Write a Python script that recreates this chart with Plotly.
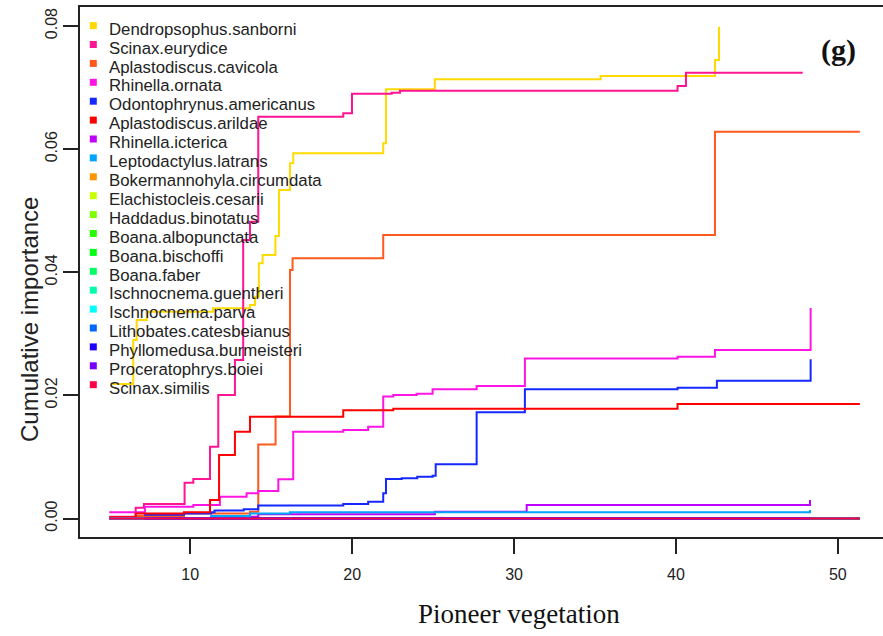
import plotly.graph_objects as go

# Species, ordered by overall importance (legend order)
species = [
    "Dendropsophus.sanborni", "Scinax.eurydice", "Aplastodiscus.cavicola",
    "Rhinella.ornata", "Odontophrynus.americanus", "Aplastodiscus.arildae",
    "Rhinella.icterica", "Leptodactylus.latrans", "Bokermannohyla.circumdata",
    "Elachistocleis.cesarii", "Haddadus.binotatus", "Boana.albopunctata",
    "Boana.bischoffi", "Boana.faber", "Ischnocnema.guentheri",
    "Ischnocnema.parva", "Lithobates.catesbeianus", "Phyllomedusa.burmeisteri",
    "Proceratophrys.boiei", "Scinax.similis",
]
colors = [
    "#FFDA00", "#FF1493", "#FF5A1E", "#FF14E6", "#1428FF", "#FF0000",
    "#C000FF", "#00A5FF", "#FF9600", "#C8FF00", "#7DFF00", "#28FF00",
    "#00FF14", "#00FF64", "#00FFAA", "#00FFFF", "#0064FF", "#1E00FF",
    "#7800FF", "#FF0046",
]

# Cumulative importance along the pioneer-vegetation gradient (step functions)
dendropsophus_x = [5.2, 6.48, 6.69, 7.31, 11.40, 13.69, 14.00, 14.24, 14.47, 15.26,
                   15.48, 16.16, 16.36, 21.92, 22.09, 25.11, 35.35, 42.41, 42.66]
dendropsophus_y = [0.02185, 0.0290, 0.03225, 0.0336, 0.03415, 0.03468, 0.03603, 0.04146,
                   0.0428, 0.0459, 0.05336, 0.0577, 0.05932, 0.06095, 0.06972, 0.07134,
                   0.07188, 0.07448, 0.07989]

eurydice_x = [5.0, 6.63, 7.14, 9.65, 10.19, 11.22, 11.73, 12.76, 13.27, 13.69, 14.20,
              19.45, 19.99, 22.44, 22.95, 40.10, 40.62, 47.83]
eurydice_y = [0.0003, 0.00175, 0.00236, 0.0058, 0.0064, 0.01166, 0.02006, 0.02575,
              0.04524, 0.0482, 0.06527, 0.06582, 0.0690, 0.06917, 0.0695, 0.07026,
              0.07242, 0.07242]

cavicola_x = [5.0, 6.63, 9.61, 13.69, 14.20, 15.27, 16.16, 16.32, 21.92, 42.41, 51.36]
cavicola_y = [0.0001, 0.0004, 0.0008, 0.0011, 0.01202, 0.01657, 0.04037, 0.04227,
              0.04606, 0.06283, 0.06283]

ornata_x = [5.0, 7.2, 10.19, 11.83, 13.48, 14.2, 15.44, 16.36, 19.45, 20.99, 21.92,
            22.54, 23.98, 24.97, 27.69, 30.67, 40.10, 42.41, 48.32]
ornata_y = [0.0010, 0.0019, 0.0022, 0.00354, 0.0041, 0.00447, 0.00637, 0.0141, 0.01438,
            0.01491, 0.0198, 0.02006, 0.02027, 0.02099, 0.02152, 0.0260, 0.02628,
            0.02737, 0.0342]

odontophrynus_x = [7.14, 9.61, 11.3, 11.5, 13.3, 14.2, 19.45, 20.99, 21.92, 22.09,
                   23.06, 24.02, 24.97, 25.16, 27.69, 30.67, 40.10, 42.53, 48.32]
odontophrynus_y = [0.0006, 0.0008, 0.001, 0.0013, 0.0015, 0.0021, 0.00236, 0.00273,
                   0.00409, 0.00642, 0.00653, 0.00679, 0.00695, 0.0088, 0.01725, 0.0210,
                   0.02125, 0.02238, 0.02586]

arildae_x = [5.0, 6.63, 9.61, 11.22, 11.78, 12.76, 13.69, 19.45, 22.54, 40.10, 51.36]
arildae_y = [0.0002, 0.0008, 0.001, 0.0030, 0.0103, 0.0141, 0.01654, 0.01758, 0.01784,
             0.0186, 0.0186]

icterica_x = [5.0, 11.3, 14.2, 25.11, 30.78, 48.28]
icterica_y = [0.0001, 0.0003, 0.0007, 0.0011, 0.00219, 0.0030]

latrans_x = [5.0, 11.3, 13.69, 16.16, 48.28]
latrans_y = [0.0, 0.0004, 0.0008, 0.001, 0.0014]

bokermannohyla_x = [5.0, 51.36]
bokermannohyla_y = [0.0, 0.0]

elachistocleis_x = [5.0, 48.28]
elachistocleis_y = [0.0, 0.0]

haddadus_x = [5.0, 48.28]
haddadus_y = [0.0, 0.0]

albopunctata_x = [5.0, 51.36]
albopunctata_y = [0.0, 0.0]

bischoffi_x = [5.0, 48.28]
bischoffi_y = [0.0, 0.0]

faber_x = [5.0, 51.36]
faber_y = [0.0, 0.0]

guentheri_x = [5.0, 48.28]
guentheri_y = [0.0, 0.0]

parva_x = [5.0, 48.28]
parva_y = [0.0, 0.0]

lithobates_x = [7.14, 48.28]
lithobates_y = [0.0, 0.0]

phyllomedusa_x = [7.14, 51.36]
phyllomedusa_y = [0.0, 0.0]

proceratophrys_x = [5.0, 48.28]
proceratophrys_y = [0.0, 0.0]

similis_x = [5.0, 51.36]
similis_y = [0.0, 0.0]

curves_x = [dendropsophus_x, eurydice_x, cavicola_x, ornata_x, odontophrynus_x,
            arildae_x, icterica_x, latrans_x, bokermannohyla_x, elachistocleis_x,
            haddadus_x, albopunctata_x, bischoffi_x, faber_x, guentheri_x, parva_x,
            lithobates_x, phyllomedusa_x, proceratophrys_x, similis_x]
curves_y = [dendropsophus_y, eurydice_y, cavicola_y, ornata_y, odontophrynus_y,
            arildae_y, icterica_y, latrans_y, bokermannohyla_y, elachistocleis_y,
            haddadus_y, albopunctata_y, bischoffi_y, faber_y, guentheri_y, parva_y,
            lithobates_y, phyllomedusa_y, proceratophrys_y, similis_y]

x_ticks = [10, 20, 30, 40, 50]
y_ticks = [0.0, 0.02, 0.04, 0.06, 0.08]
y_tick_text = ["0.00", "0.02", "0.04", "0.06", "0.08"]

W, H = 883, 636
L, R, T, B = 80, 0, 7, 99
plot_w = W - L - R
plot_h = H - T - B

def px_x(px):
    return (px - L) / plot_w

def px_y(py):
    return (H - B - py) / plot_h

SANS = "Liberation Sans, Arial, sans-serif"
SERIF = "Liberation Serif, Times New Roman, serif"
INK = "#222222"

fig = go.Figure()
for name, col, xs, ys in zip(species, colors, curves_x, curves_y):
    fig.add_trace(go.Scatter(
        x=xs, y=ys, mode="lines", name=name,
        line=dict(color=col, width=2, shape="hv"),
        showlegend=False, hoverinfo="skip",
    ))

# Legend drawn as colour squares with labels, stacked down the upper-left corner
row_text0, row_sq0, row_step = 29.3, 25.6, 18.9
annotations = []
shapes = []
for i, (name, col) in enumerate(zip(species, colors)):
    cy = row_sq0 + i * row_step
    shapes.append(dict(
        type="rect", xref="paper", yref="paper",
        x0=px_x(89.8), x1=px_x(96.8), y0=px_y(cy + 3.5), y1=px_y(cy - 3.5),
        fillcolor=col, line=dict(width=0), layer="above",
    ))
    annotations.append(dict(
        x=px_x(106.5), y=px_y(row_text0 + i * row_step), xref="paper", yref="paper",
        text=name, showarrow=False, xanchor="left", yanchor="middle",
        font=dict(family=SANS, size=16.8, color=INK),
    ))

annotations.append(dict(
    x=px_x(838), y=px_y(50), xref="paper", yref="paper", text="<b>(g)</b>",
    showarrow=False, xanchor="center", yanchor="middle",
    font=dict(family=SERIF, size=30, color="#111111"),
))
annotations.append(dict(
    x=px_x(519), y=px_y(614), xref="paper", yref="paper", text="Pioneer vegetation",
    showarrow=False, xanchor="center", yanchor="middle",
    font=dict(family=SERIF, size=27, color="#111111"),
))
annotations.append(dict(
    x=px_x(29), y=px_y(320), xref="paper", yref="paper", text="Cumulative importance",
    showarrow=False, xanchor="center", yanchor="middle", textangle=-90,
    font=dict(family=SANS, size=24, color=INK),
))

fig.update_layout(
    width=W, height=H,
    margin=dict(l=L, r=R, t=T, b=B, pad=0),
    paper_bgcolor="white", plot_bgcolor="white",
    showlegend=False,
    annotations=annotations,
    shapes=shapes,
    xaxis=dict(
        range=[3.19, 52.79], tickmode="array", tickvals=x_ticks,
        ticks="outside", ticklen=15, tickwidth=1.5, tickcolor=INK,
        showline=True, linecolor=INK, linewidth=1.5, mirror=True,
        showgrid=False, zeroline=False,
        tickfont=dict(family=SANS, size=16, color=INK),
        ticklabelstandoff=7,
    ),
    yaxis=dict(
        range=[-0.003005, 0.08309], tickmode="array", tickvals=y_ticks,
        ticktext=y_tick_text, tickangle=-90,
        ticks="outside", ticklen=15, tickwidth=1.5, tickcolor=INK,
        showline=True, linecolor=INK, linewidth=1.5, mirror=False,
        showgrid=False, zeroline=False,
        tickfont=dict(family=SANS, size=16, color=INK),
        ticklabelstandoff=0,
    ),
)

fig.write_html("out.html")
